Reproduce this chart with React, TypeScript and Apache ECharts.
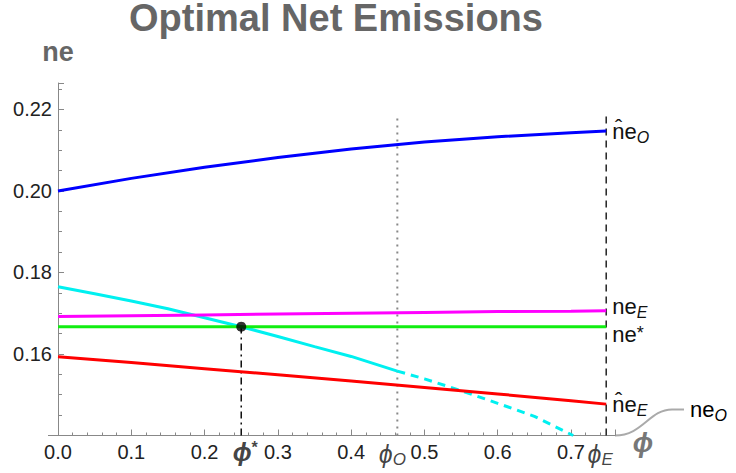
import React, { useEffect, useRef } from "react";
import * as echarts from "echarts";

const FONT = "'Liberation Sans', Arial, sans-serif";

// x grid of sampled values
const xsMain = [0, 0.1, 0.2, 0.3, 0.4, 0.5, 0.6, 0.7, 0.748];
const neHatO = [0.2, 0.2031, 0.2058, 0.2082, 0.2103, 0.212, 0.2133, 0.2143, 0.2147];
const neE = [0.1692, 0.1694, 0.1696, 0.1698, 0.17, 0.1702, 0.1704, 0.1705, 0.1706];
const neStar = [0.1667, 0.1667, 0.1667, 0.1667, 0.1667, 0.1667, 0.1667, 0.1667, 0.1667];
const neHatE = [0.1593, 0.1579, 0.1564, 0.1549, 0.1534, 0.1518, 0.1502, 0.1485, 0.1477];

const xsOSolid = [0, 0.05, 0.1, 0.15, 0.2, 0.25, 0.3, 0.35, 0.4, 0.463];
const neOSolid = [0.1765, 0.1748, 0.173, 0.1711, 0.1689, 0.1667, 0.1643, 0.1618, 0.1594, 0.1558];
const xsODash = [0.463, 0.5, 0.55, 0.6, 0.65, 0.703];
const neODash = [0.1558, 0.1539, 0.151, 0.1479, 0.1447, 0.14];

const phiStar = 0.25;
const phiO = 0.463;
const phiE = 0.748;
const neStarValue = 0.1667;
const phiOTop = 0.218;
const phiETop = 0.2195;

const yMin = 0.14;
const yMax = 0.2265;
const xMin = 0;
const xMax = 0.76;

const xTickLabels = ["0.0", "0.1", "0.2", "0.3", "0.4", "0.5", "0.6", "0.7"];
const yTickLabels = ["0.16", "0.18", "0.20", "0.22"];

const zip = (xs: number[], ys: number[]) => xs.map((x, i) => [x, ys[i]]);

const richBase = {
  m: { fontSize: 22, fontFamily: FONT, color: "#111" },
  sub: { fontSize: 16, fontFamily: FONT, fontStyle: "italic", color: "#111", padding: [12, 0, 0, 0] },
  sup: { fontSize: 18, fontFamily: FONT, color: "#111", padding: [0, 0, 4, 0] },
};

export default function App() {
  const ref = useRef<HTMLDivElement>(null);
  useEffect(() => {
    if (!ref.current) return;
    const chart = echarts.init(ref.current, null, { renderer: "svg" });
    const lineSeries = (name: string, data: number[][], color: string, label: string, extra: any = {}) => ({
      type: "line",
      name,
      data,
      showSymbol: false,
      symbol: "none",
      lineStyle: { color, width: 3 },
      z: 5,
      endLabel: {
        show: true,
        formatter: label,
        rich: richBase,
        distance: 6,
        ...extra,
      },
    });
    const vline = (x: number, top: number, color: string, type: any, width: number) => ({
      type: "line",
      data: [[x, yMin], [x, top]],
      showSymbol: false,
      symbol: "none",
      lineStyle: { color, width, type },
      z: 3,
    });
    const option: any = {
      animation: false,
      title: {
        text: "Optimal Net Emissions",
        left: 331,
        top: -6,
        textAlign: "center",
        textStyle: { fontSize: 38, fontWeight: "bold", color: "#666", fontFamily: FONT },
      },
      grid: { left: 58, top: 83, width: 557, height: 352.5 },
      xAxis: {
        type: "value",
        min: xMin,
        max: xMax,
        interval: 0.1,
        axisLine: { show: true, lineStyle: { color: "#888", width: 1 } },
        axisTick: { show: true, inside: true, length: 6, lineStyle: { color: "#888" } },
        minorTick: { show: true, splitNumber: 5, length: 3, lineStyle: { color: "#888" } },
        splitLine: { show: false },
        axisLabel: {
          margin: 6,
          fontSize: 20,
          fontFamily: FONT,
          color: "#222",
          formatter: (v: number) => {
            const idx = Math.round(v * 10);
            return Math.abs(v - idx / 10) < 1e-6 && idx < xTickLabels.length ? xTickLabels[idx] : "";
          },
        },
      },
      yAxis: {
        type: "value",
        min: yMin,
        max: yMax,
        interval: 0.02,
        name: "ne",
        nameLocation: "end",
        nameGap: 18,
        nameTextStyle: { fontSize: 27, fontWeight: "bold", color: "#666", fontFamily: FONT, align: "center" },
        axisLine: { show: true, lineStyle: { color: "#888", width: 1 } },
        axisTick: { show: true, inside: true, length: 6, lineStyle: { color: "#888" } },
        minorTick: { show: true, splitNumber: 4, length: 4, lineStyle: { color: "#888" } },
        splitLine: { show: false },
        axisLabel: {
          margin: 6,
          fontSize: 20,
          fontFamily: FONT,
          color: "#222",
          formatter: (v: number) => {
            const idx = Math.round((v - 0.16) / 0.02);
            return idx >= 0 && idx < yTickLabels.length && Math.abs(v - (0.16 + idx * 0.02)) < 1e-6
              ? yTickLabels[idx]
              : "";
          },
        },
      },
      series: [
        vline(phiStar, neStarValue, "#111", [7, 4, 2, 4], 1.5),
        vline(phiO, phiOTop, "#888", [2, 5], 2),
        vline(phiE, phiETop, "#222", [7, 5], 1.5),
        {
          type: "line",
          data: zip(xsOSolid, neOSolid),
          showSymbol: false,
          symbol: "none",
          lineStyle: { color: "#00f0f0", width: 3 },
          z: 4,
        },
        {
          type: "line",
          data: zip(xsODash, neODash),
          showSymbol: false,
          symbol: "none",
          lineStyle: { color: "#00f0f0", width: 3, type: [8, 6] },
          z: 4,
        },
        lineSeries("neHatO", zip(xsMain, neHatO), "#0000ff", "{m|n\u0302e}{sub|O}"),
        lineSeries("neE", zip(xsMain, neE), "#ff00ff", "{m|ne}{sub|E}", { offset: [0, -4] }),
        lineSeries("neStar", zip(xsMain, neStar), "#11ee11", "{m|ne}{sup|*}", { offset: [0, 8] }),
        lineSeries("neHatE", zip(xsMain, neHatE), "#ff0000", "{m|n\u0302e}{sub|E}"),
        {
          type: "scatter",
          data: [[phiStar, neStarValue]],
          symbolSize: 10,
          itemStyle: { color: "#000" },
          z: 10,
        },
        {
          type: "scatter",
          symbolSize: 1,
          itemStyle: { color: "rgba(0,0,0,0)" },
          z: 10,
          label: {
            show: true,
            position: "bottom",
            distance: 3,
            rich: {
              p: { fontSize: 25, fontFamily: FONT, fontStyle: "italic", color: "#111" },
              pb: { fontSize: 25, fontFamily: FONT, fontStyle: "italic", fontWeight: "bold", color: "#111" },
              sb: { fontSize: 16, fontFamily: FONT, fontWeight: "bold", color: "#111", padding: [0, 0, 8, 0] },
              s: { fontSize: 17, fontFamily: FONT, fontStyle: "italic", color: "#111", padding: [12, 0, 0, 0] },
            },
          },
          data: [
            { value: [phiStar, yMin], label: { formatter: "{pb|\u03D5}{sb|*}", offset: [4, 0] } },
            { value: [phiO, yMin], label: { formatter: "{p|\u03D5}{s|O}", offset: [-5, 0] } },
            { value: [phiE, yMin], label: { formatter: "{p|\u03D5}{s|E}", offset: [-6, 0] } },
          ],
        },
      ],
    };
    chart.setOption(option);

    const o = chart.convertToPixel({ gridIndex: 0 }, [xMin, yMin]) as number[];
    const e = chart.convertToPixel({ gridIndex: 0 }, [xMax, yMin]) as number[];
    chart.setOption({
      graphic: [
        {
          type: "line",
          shape: { x1: o[0] - 10, y1: o[1], x2: o[0], y2: o[1] },
          style: { stroke: "#888", lineWidth: 1 },
        },
        {
          type: "bezierCurve",
          shape: {
            x1: e[0],
            y1: e[1],
            cpx1: e[0] + 28,
            cpy1: e[1],
            cpx2: e[0] + 34,
            cpy2: e[1] - 26,
            x2: e[0] + 57,
            y2: e[1] - 26,
          },
          style: { stroke: "#aaa", lineWidth: 2, fill: null },
        },
        {
          type: "line",
          shape: { x1: e[0] + 57, y1: e[1] - 26, x2: e[0] + 69, y2: e[1] - 26 },
          style: { stroke: "#aaa", lineWidth: 2 },
        },
        {
          type: "text",
          x: e[0] + 75,
          y: e[1] - 26,
          style: {
            text: "{m|ne}{sub|O}",
            rich: richBase,
            verticalAlign: "middle",
            align: "left",
          },
        },
        {
          type: "text",
          x: e[0] + 28,
          y: e[1] + 7,
          style: {
            text: "\u03D5",
            fontSize: 27,
            fontFamily: FONT,
            fontStyle: "italic",
            fontWeight: "bold",
            fill: "#777",
            verticalAlign: "middle",
            align: "center",
          },
        },
      ],
    });
    return () => chart.dispose();
  }, []);
  return (
    <div
      ref={ref}
      style={{ position: "fixed", left: 0, top: 0, width: 736, height: 473, background: "#fff" }}
    />
  );
}
